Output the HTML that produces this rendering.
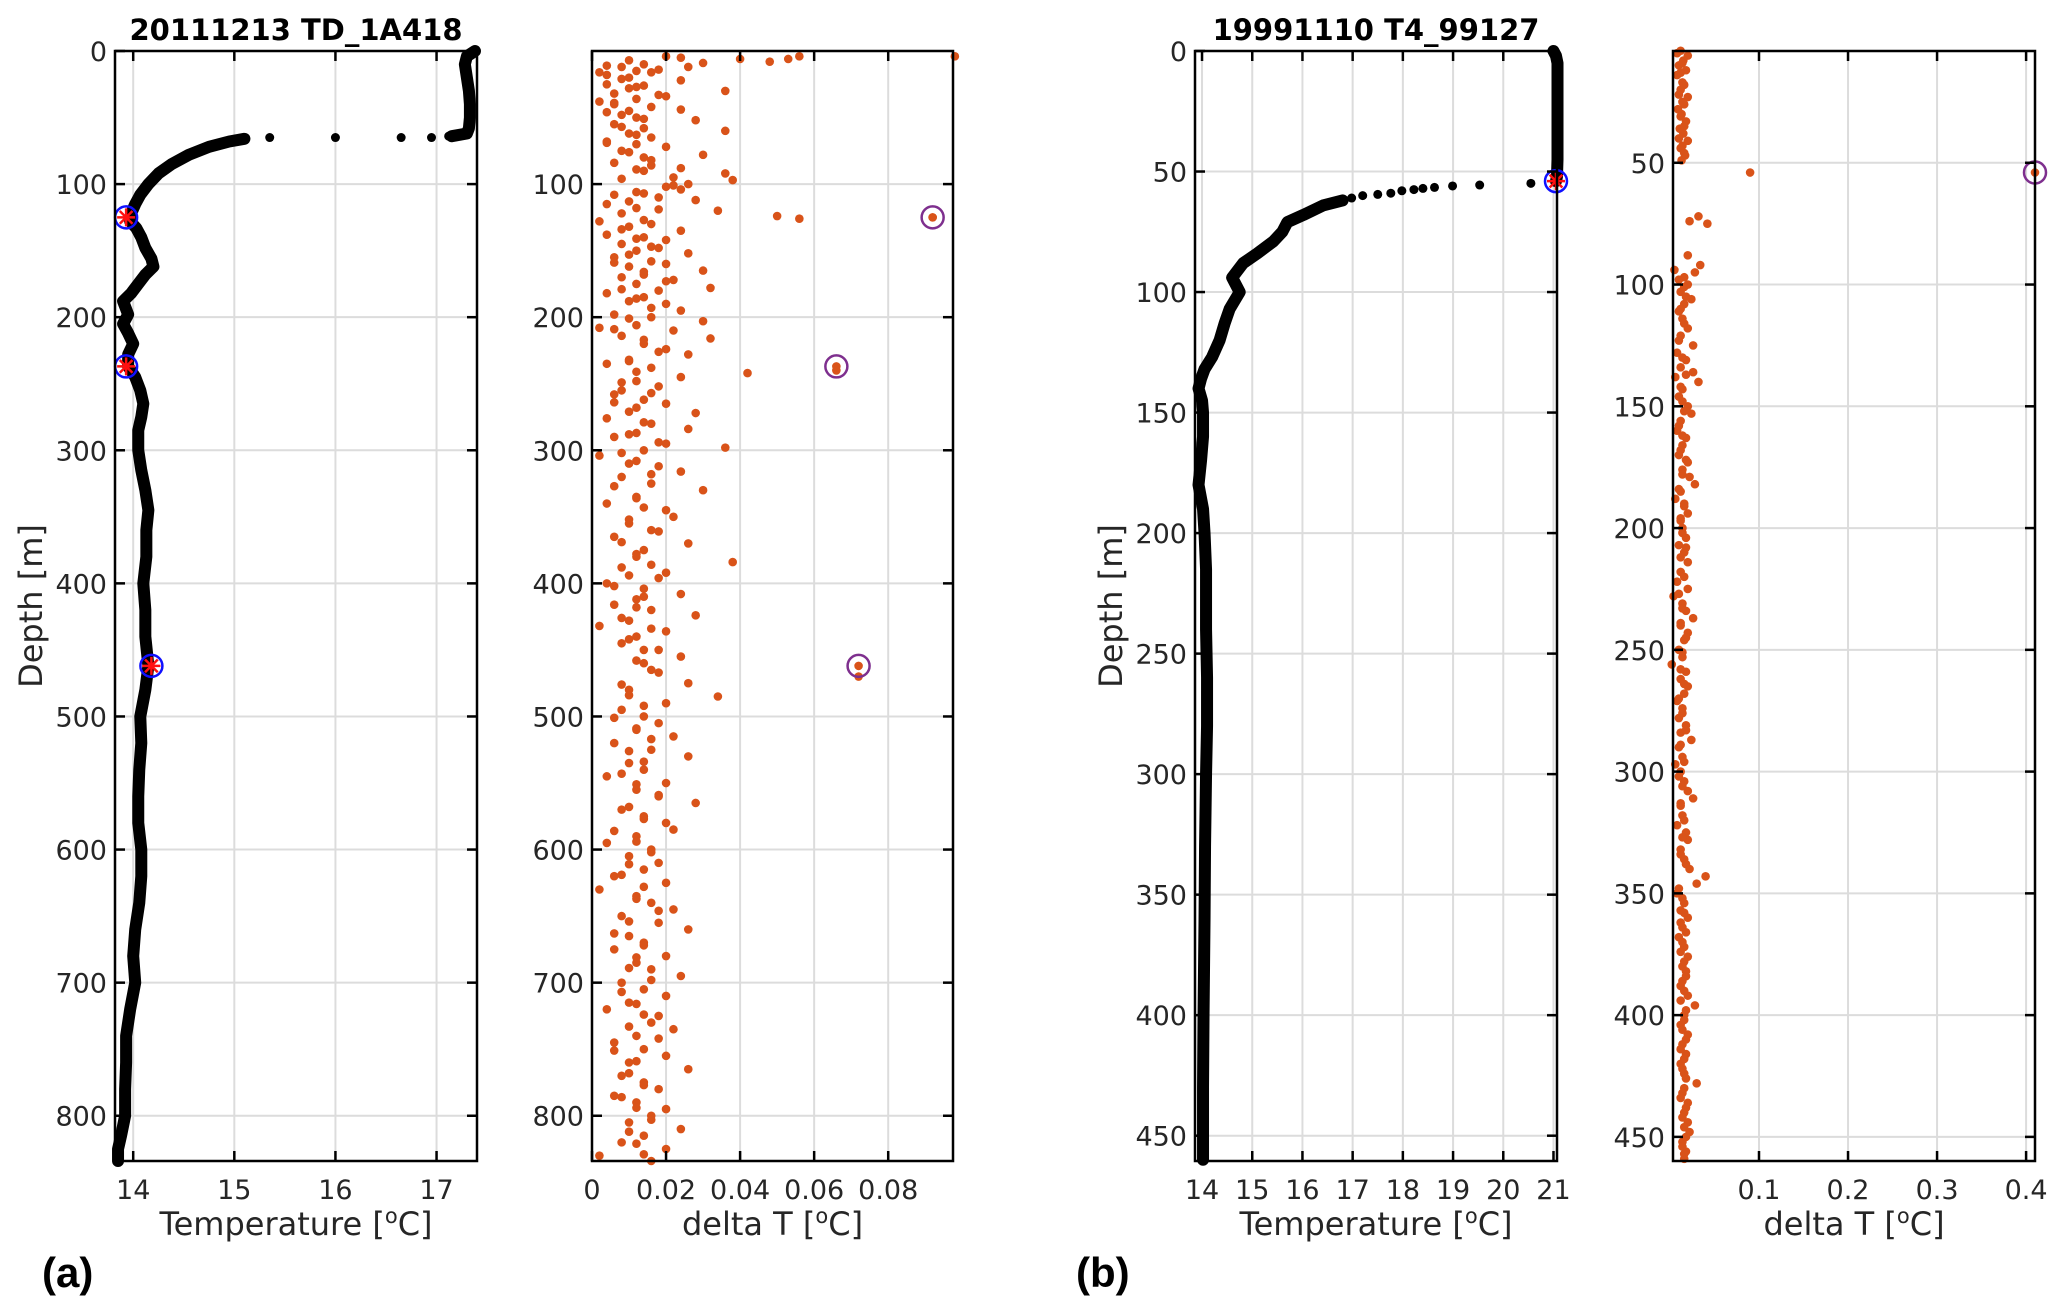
<!DOCTYPE html>
<html><head><meta charset="utf-8"><style>
body{margin:0;background:#fff}
svg{display:block;font-family:"DejaVu Sans","Liberation Sans",sans-serif}
.tk{font-size:27px;fill:#262626}
.lb{font-size:32px;fill:#262626}
.tt{font-size:29px;font-weight:bold;fill:#000}
.pl{font-size:42px;font-weight:bold;fill:#000;font-family:"Liberation Sans",sans-serif}
</style></head><body>
<svg id="fig" width="2067" height="1313" viewBox="0 0 2067 1313"></svg>
<script>
// Panel (a) temperature profile: mixed layer segment and lower segment
const profA_top_depth=[0,4,10,20,30,40,50,58,62,64];
const profA_top_temp=[17.38,17.3,17.28,17.3,17.32,17.33,17.33,17.32,17.3,17.15];
const profA_depth=[66,68,72,78,85,92,100,108,115,122,128,133,140,148,156,162,168,175,182,188,192,198,205,212,220,228,237,245,255,265,275,285,300,315,330,345,360,380,400,420,440,462,480,500,520,540,560,580,600,620,640,660,680,700,720,740,760,780,800,815,825,834];
const profA_temp=[15.1,14.95,14.75,14.55,14.38,14.25,14.15,14.07,14.02,13.98,13.97,14.03,14.08,14.12,14.18,14.2,14.12,14.05,13.98,13.9,13.92,13.95,13.9,13.95,14.0,13.95,13.95,14.02,14.07,14.1,14.08,14.05,14.05,14.08,14.12,14.15,14.13,14.13,14.1,14.12,14.12,14.15,14.12,14.07,14.08,14.06,14.05,14.05,14.08,14.08,14.06,14.02,14.0,14.02,13.97,13.93,13.93,13.92,13.92,13.88,13.85,13.85];
const jumpA_depth=[65,65,65,65,64];
const jumpA_temp=[15.35,16.0,16.65,16.95,17.12];
const flagA_depth=[125,237,462];
const flagA_temp=[13.93,13.93,14.18];
// Panel (a) delta T scatter
const dA_depth=[4,4,4,5,6,6,8,9,10,12,12,14,15,16,18,20,22,25,26,28,30,32,34,36,38,40,42,44,46,48,50,52,55,58,60,62,65,68,70,72,75,78,80,84,86,88,90,92,95,97,100,102,104,106,108,110,112,115,118,120,122,124,125,126,128,130,132,135,138,140,142,145,148,150,152,155,158,160,162,165,168,170,172,175,178,180,182,185,188,190,195,198,200,203,206,208,210,214,216,220,224,228,232,235,238,240,242,245,248,252,255,258,262,265,268,272,276,280,284,288,290,295,298,300,304,308,312,316,320,325,330,335,340,345,350,355,360,365,370,375,380,384,388,392,396,400,404,408,412,416,420,424,428,432,436,440,445,450,455,460,465,470,475,480,485,490,495,500,505,510,515,520,525,530,535,540,545,550,555,560,565,570,575,580,585,590,595,600,605,610,615,620,625,630,635,640,645,650,655,660,665,670,675,680,685,690,695,700,705,710,715,720,725,730,735,740,745,750,755,760,765,770,775,780,785,790,795,800,805,810,815,820,825,830,834];
const dA_val=[0.02,0.056,0.098,0.024,0.04,0.053,0.048,0.03,0.014,0.008,0.026,0.018,0.012,0.002,0.004,0.01,0.024,0.004,0.014,0.01,0.036,0.006,0.02,0.012,0.002,0.006,0.016,0.024,0.004,0.008,0.012,0.028,0.006,0.014,0.036,0.01,0.016,0.004,0.012,0.02,0.008,0.03,0.014,0.006,0.016,0.024,0.014,0.036,0.022,0.038,0.026,0.02,0.024,0.012,0.006,0.018,0.028,0.004,0.012,0.034,0.008,0.05,0.092,0.056,0.002,0.016,0.01,0.024,0.004,0.014,0.02,0.008,0.018,0.012,0.026,0.006,0.016,0.02,0.01,0.03,0.014,0.008,0.022,0.012,0.032,0.018,0.004,0.014,0.01,0.02,0.024,0.006,0.016,0.03,0.012,0.002,0.022,0.008,0.032,0.014,0.02,0.026,0.01,0.004,0.016,0.066,0.042,0.024,0.012,0.018,0.008,0.006,0.014,0.02,0.012,0.028,0.004,0.016,0.026,0.01,0.006,0.02,0.036,0.014,0.002,0.012,0.018,0.024,0.008,0.016,0.03,0.012,0.004,0.02,0.022,0.01,0.016,0.006,0.026,0.014,0.012,0.038,0.008,0.02,0.018,0.004,0.014,0.024,0.012,0.006,0.016,0.028,0.01,0.002,0.02,0.012,0.008,0.018,0.024,0.014,0.016,0.072,0.026,0.01,0.034,0.02,0.008,0.014,0.018,0.012,0.022,0.006,0.016,0.026,0.01,0.014,0.004,0.02,0.012,0.018,0.028,0.008,0.014,0.02,0.022,0.012,0.004,0.016,0.01,0.018,0.014,0.006,0.02,0.002,0.012,0.016,0.022,0.008,0.018,0.026,0.01,0.014,0.006,0.02,0.012,0.016,0.024,0.008,0.014,0.02,0.01,0.004,0.018,0.016,0.022,0.012,0.006,0.014,0.02,0.01,0.026,0.008,0.014,0.018,0.006,0.012,0.02,0.016,0.01,0.024,0.014,0.008,0.02,0.002,0.016,0.028,0.004,0.012,0.02];
const dA2_depth=[7,11,16,21,27,33,39,45,51,57,63,69,76,82,89,96,101,107,113,119,127,134,141,147,153,159,166,173,179,186,193,201,209,217,226,233,241,249,257,264,271,279,287,294,302,310,318,327,336,343,352,361,369,378,386,394,402,410,418,426,434,442,450,458,467,476,484,492,501,509,517,526,534,543,551,559,568,577,586,594,602,611,619,628,637,646,654,663,672,681,689,698,707,716,724,733,742,751,759,768,777,786,794,803,812,821,829];
const dA2_val=[0.01,0.004,0.016,0.008,0.012,0.018,0.006,0.01,0.014,0.008,0.012,0.004,0.01,0.016,0.012,0.008,0.022,0.014,0.01,0.018,0.014,0.008,0.012,0.016,0.01,0.006,0.014,0.02,0.008,0.012,0.016,0.01,0.006,0.014,0.018,0.01,0.012,0.008,0.016,0.006,0.01,0.014,0.012,0.018,0.008,0.01,0.016,0.006,0.012,0.014,0.01,0.018,0.008,0.012,0.016,0.01,0.006,0.014,0.012,0.008,0.016,0.01,0.014,0.012,0.018,0.008,0.01,0.014,0.006,0.012,0.016,0.01,0.014,0.008,0.012,0.018,0.01,0.014,0.006,0.012,0.016,0.01,0.008,0.014,0.012,0.018,0.01,0.006,0.014,0.012,0.01,0.016,0.008,0.012,0.014,0.01,0.018,0.006,0.012,0.01,0.014,0.008,0.012,0.016,0.01,0.012,0.014];
const flagdA_depth=[125,237,462];
const flagdA_val=[0.092,0.066,0.072];

// Panel (b) temperature profile
const profB_top_depth=[0,2,5,15,30,45,52,54];
const profB_top_temp=[21.0,21.05,21.08,21.08,21.08,21.08,21.07,21.05];
const profB_depth=[62,64,68,71,75,79,84,88,94,100,107,113,120,127,132,136,140,145,150,160,170,180,190,200,215,225,240,260,280,300,330,360,400,430,460];
const profB_temp=[16.8,16.42,16.02,15.7,15.6,15.42,15.1,14.82,14.6,14.75,14.55,14.45,14.35,14.2,14.05,13.98,13.93,14.0,14.02,14.02,13.98,13.93,14.02,14.05,14.08,14.08,14.08,14.1,14.1,14.08,14.06,14.05,14.03,14.02,14.02];
const jumpB_depth=[54.9,55.6,56,56.6,57,57.5,58,59,59.5,60,61];
const jumpB_temp=[20.55,19.53,18.99,18.63,18.4,18.22,17.98,17.76,17.5,17.2,16.98];
const flagB_depth=[54];
const flagB_temp=[21.05];
// Panel (b) delta T scatter
const dB_depth=[4,6,8,10,12,14,17,20,23,26,28,30,33,36,38,41,44,47,49,54,72,74,75,88,92,94,95,97,100,103,106,108,111,114,118,121,125,128,131,134,136,138,140,143,146,150,153,156,160,163,166,170,173,176,179,182,185,188,191,194,197,200,204,207,210,214,218,222,225,228,231,234,237,240,243,246,250,253,256,259,262,265,268,271,274,278,281,284,287,290,294,297,300,304,308,311,314,318,322,325,328,332,336,340,343,346,350,354,357,360,364,368,372,376,380,384,388,392,396,400,404,408,412,416,420,424,428,432,436,440,444,448,452,456,459];
const dB_val=[0.012,0.02,0.015,0.01,0.018,0.008,0.014,0.012,0.02,0.016,0.009,0.013,0.018,0.011,0.015,0.02,0.012,0.017,0.013,0.09,0.032,0.022,0.042,0.02,0.034,0.005,0.028,0.016,0.02,0.012,0.024,0.016,0.01,0.014,0.02,0.012,0.026,0.008,0.018,0.012,0.026,0.006,0.032,0.014,0.01,0.02,0.024,0.012,0.008,0.018,0.014,0.01,0.02,0.014,0.022,0.028,0.012,0.006,0.016,0.02,0.012,0.014,0.018,0.01,0.016,0.02,0.012,0.008,0.02,0.004,0.014,0.018,0.026,0.012,0.02,0.016,0.01,0.014,0.002,0.018,0.012,0.02,0.016,0.008,0.014,0.01,0.018,0.012,0.024,0.01,0.014,0.006,0.012,0.016,0.02,0.026,0.012,0.014,0.008,0.018,0.02,0.012,0.016,0.022,0.04,0.03,0.008,0.016,0.012,0.02,0.014,0.01,0.016,0.02,0.014,0.018,0.012,0.02,0.028,0.016,0.012,0.02,0.014,0.018,0.012,0.016,0.03,0.014,0.02,0.016,0.02,0.022,0.014,0.018,0.016];
const dB2_depth=[5,9,13,18,22,25,31,35,40,43,46,98,101,105,110,116,123,130,137,142,148,152,158,162,168,172,178,184,190,196,202,208,212,220,227,233,239,245,251,258,264,270,276,283,289,296,302,306,313,320,327,334,338,348,352,358,362,366,370,374,378,382,386,390,394,398,402,406,410,414,418,422,426,430,434,438,442,446,450,454,457];
const dB2_val=[0.008,0.014,0.012,0.016,0.01,0.014,0.012,0.016,0.01,0.014,0.016,0.01,0.016,0.018,0.012,0.016,0.01,0.014,0.018,0.012,0.014,0.016,0.01,0.014,0.012,0.018,0.014,0.01,0.016,0.012,0.014,0.018,0.012,0.016,0.01,0.014,0.012,0.018,0.014,0.012,0.016,0.01,0.014,0.018,0.012,0.016,0.01,0.014,0.012,0.016,0.014,0.012,0.018,0.01,0.014,0.016,0.012,0.018,0.014,0.012,0.016,0.018,0.014,0.016,0.012,0.018,0.016,0.014,0.018,0.012,0.016,0.014,0.018,0.016,0.012,0.018,0.014,0.016,0.018,0.014,0.016];
const flagdB_depth=[54];
const flagdB_val=[0.41];

const NS='http://www.w3.org/2000/svg';
const svg=document.getElementById('fig');
function mk(tag,attrs,parent){const e=document.createElementNS(NS,tag);for(const k in attrs)e.setAttribute(k,attrs[k]);(parent||svg).appendChild(e);return e;}

function panel(o){
  const g=mk('g',{});
  
  
  const sx=v=>o.x0+(v-o.xmin)/(o.xmax-o.xmin)*(o.x1-o.x0);
  const sy=v=>o.y0+(v-o.ymin)/(o.ymax-o.ymin)*(o.y1-o.y0);
  o.xt.forEach(v=>{const l=mk('line',{x1:sx(v),x2:sx(v),y1:o.y0,y2:o.y1,stroke:'#dcdcdc','stroke-width':2},g);
    });
  o.yt.forEach(v=>{const l=mk('line',{x1:o.x0,x2:o.x1,y1:sy(v),y2:sy(v),stroke:'#dcdcdc','stroke-width':2},g);
    });
  o.draw(g,sx,sy);
  const fr=mk('rect',{x:o.x0,y:o.y0,width:o.x1-o.x0,height:o.y1-o.y0,fill:'none',stroke:'#000','stroke-width':2.5},g);
  
  o.xt.forEach((v,i)=>{const x=sx(v);
    mk('line',{x1:x,x2:x,y1:o.y1,y2:o.y1-10,stroke:'#000','stroke-width':2.5},g);
    mk('line',{x1:x,x2:x,y1:o.y0,y2:o.y0+10,stroke:'#000','stroke-width':2.5},g);
    const t=mk('text',{x:x,y:o.y1+38,'text-anchor':'middle',class:'tk'},g);t.textContent=o.xl[i];
    });
  o.yt.forEach((v,i)=>{const y=sy(v);
    mk('line',{x1:o.x0,x2:o.x0+10,y1:y,y2:y,stroke:'#000','stroke-width':2.5},g);
    mk('line',{x1:o.x1,x2:o.x1-10,y1:y,y2:y,stroke:'#000','stroke-width':2.5},g);
    const t=mk('text',{x:o.x0-8,y:y+10,'text-anchor':'end',class:'tk'},g);t.textContent=o.yl[i];
    });
  const xl=mk('text',{x:(o.x0+o.x1)/2,y:1235,'text-anchor':'middle',class:'lb'},g);
  xl.innerHTML=o.xlabel;
  
  if(o.ylabel){const yl=mk('text',{x:0,y:0,'text-anchor':'middle',class:'lb',transform:`translate(${o.ylx},606) rotate(-90)`},g);
    yl.textContent=o.ylabel;}
  if(o.title){const tt=mk('text',{x:(o.x0+o.x1)/2,y:40,'text-anchor':'middle',class:'tt'},g);
    tt.textContent=o.title;}
}
function line(g,sx,sy,dep,tem){
  const pl=mk('polyline',{points:dep.map((d,i)=>sx(tem[i])+','+sy(d)).join(' '),fill:'none',stroke:'#000','stroke-width':12,'stroke-linejoin':'round','stroke-linecap':'round'},g);
  
}
function profile(g,sx,sy,td,tt,dep,tem,jd,jt,fd,ft){
  line(g,sx,sy,td,tt);line(g,sx,sy,dep,tem);
  jd.forEach((d,i)=>{const c=mk('circle',{cx:sx(jt[i]),cy:sy(d),r:4.5,fill:'#000'},g);
    });
  fd.forEach((d,i)=>{const x=sx(ft[i]),y=sy(d);
    const c=mk('circle',{cx:x,cy:y,r:11,fill:'none',stroke:'#1010ff','stroke-width':2.5},g);
    
    for(let a=0;a<4;a++){const an=a*Math.PI/4;mk('line',{x1:x-9*Math.cos(an),y1:y-9*Math.sin(an),x2:x+9*Math.cos(an),y2:y+9*Math.sin(an),stroke:'#ff1010','stroke-width':2.5},g);}
  });
}
function dots(g,sx,sy,dep,val){
  dep.forEach((d,i)=>{const c=mk('circle',{cx:sx(val[i]),cy:sy(d),r:4.3,fill:'#D95319'},g);
    });
}
function scatter(g,sx,sy,dep,val,dep2,val2,fd,fv){
  dots(g,sx,sy,dep,val);dots(g,sx,sy,dep2,val2);
  fd.forEach((d,i)=>{const x=sx(fv[i]),y=sy(d);
    const c=mk('circle',{cx:x,cy:y,r:4.3,fill:'#D95319'},g);
    
    const h=mk('circle',{cx:x,cy:y,r:11,fill:'none',stroke:'#7E2F8E','stroke-width':2.5},g);
    });
}
const T1='Temperature [<tspan baseline-shift="super" font-size="21">o</tspan>C]';
const T2='delta T [<tspan baseline-shift="super" font-size="21">o</tspan>C]';
panel({name:'panel-a-temperature',x0:115,x1:477,y0:51,y1:1161,xmin:13.82,xmax:17.4,ymin:0,ymax:834,
  xt:[14,15,16,17],xl:['14','15','16','17'],yt:[0,100,200,300,400,500,600,700,800],yl:['0','100','200','300','400','500','600','700','800'],
  xlabel:T1,ylabel:'Depth [m]',ylx:42,title:'20111213 TD_1A418',
  draw:(g,sx,sy)=>profile(g,sx,sy,profA_top_depth,profA_top_temp,profA_depth,profA_temp,jumpA_depth,jumpA_temp,flagA_depth,flagA_temp)});
panel({name:'panel-a-delta-t',x0:592,x1:953,y0:51,y1:1161,xmin:0,xmax:0.0975,ymin:0,ymax:834,
  xt:[0,0.02,0.04,0.06,0.08],xl:['0','0.02','0.04','0.06','0.08'],yt:[100,200,300,400,500,600,700,800],yl:['100','200','300','400','500','600','700','800'],
  xlabel:T2,
  draw:(g,sx,sy)=>scatter(g,sx,sy,dA_depth,dA_val,dA2_depth,dA2_val,flagdA_depth,flagdA_val)});
panel({name:'panel-b-temperature',x0:1195,x1:1557,y0:51,y1:1161,xmin:13.86,xmax:21.07,ymin:0,ymax:460.5,
  xt:[14,15,16,17,18,19,20,21],xl:['14','15','16','17','18','19','20','21'],yt:[0,50,100,150,200,250,300,350,400,450],yl:['0','50','100','150','200','250','300','350','400','450'],
  xlabel:T1,ylabel:'Depth [m]',ylx:1122,title:'19991110 T4_99127',
  draw:(g,sx,sy)=>profile(g,sx,sy,profB_top_depth,profB_top_temp,profB_depth,profB_temp,jumpB_depth,jumpB_temp,flagB_depth,flagB_temp)});
panel({name:'panel-b-delta-t',x0:1673,x1:2035,y0:51,y1:1161,xmin:0.0034,xmax:0.41,ymin:4.1,ymax:459.9,
  xt:[0.1,0.2,0.3,0.4],xl:['0.1','0.2','0.3','0.4'],yt:[50,100,150,200,250,300,350,400,450],yl:['50','100','150','200','250','300','350','400','450'],
  xlabel:T2,
  draw:(g,sx,sy)=>scatter(g,sx,sy,dB_depth,dB_val,dB2_depth,dB2_val,flagdB_depth,flagdB_val)});
const pa=mk('text',{x:42,y:1287,class:'pl'});pa.textContent='(a)';


const pb=mk('text',{x:1076,y:1287,class:'pl'});pb.textContent='(b)';


</script>
</body></html>
